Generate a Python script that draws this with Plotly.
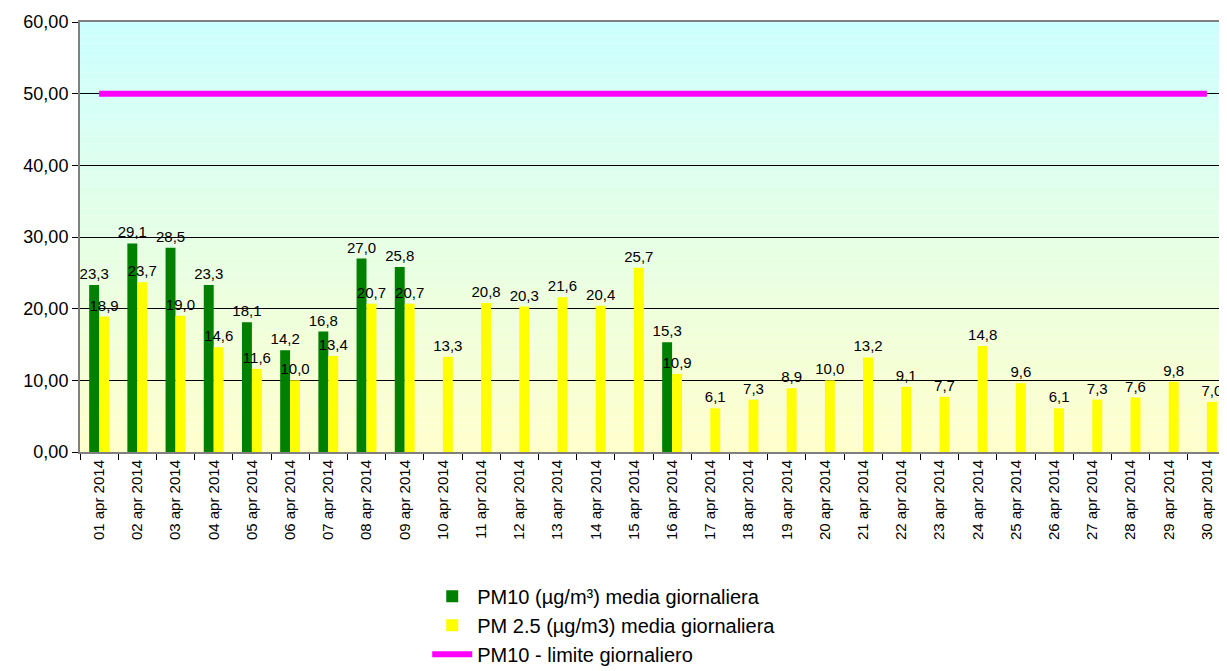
"""PM10 / PM2.5 medie giornaliere - aprile 2014."""
import plotly.graph_objects as go

DAYS = [f"{d:02d} apr 2014" for d in range(1, 31)]

PM10 = [23.3, 29.1, 28.5, 23.3, 18.1, 14.2, 16.8, 27.0, 25.8, None,
        None, None, None, None, None, 15.3, None, None, None, None,
        None, None, None, None, None, None, None, None, None, None]

PM25 = [18.9, 23.7, 19.0, 14.6, 11.6, 10.0, 13.4, 20.7, 20.7, 13.3,
        20.8, 20.3, 21.6, 20.4, 25.7, 10.9, 6.1, 7.3, 8.9, 10.0,
        13.2, 9.1, 7.7, 14.8, 9.6, 6.1, 7.3, 7.6, 9.8, 7.0]

LIMITE = [50.0] * len(DAYS)

FONT = "Arial, Liberation Sans, sans-serif"

fig = go.Figure()
fig.add_trace(go.Bar(
    x=DAYS, y=PM10, name="PM10 (µg/m³) media giornaliera",
    marker=dict(color="#008000", line=dict(width=0)),
    texttemplate="%{y:.1f}", textposition="outside", constraintext="none",
    textfont=dict(size=15, color="black"), cliponaxis=False,
))
fig.add_trace(go.Bar(
    x=DAYS, y=PM25, name="PM 2.5 (µg/m3) media giornaliera",
    marker=dict(color="#FFFF00", line=dict(width=0)),
    texttemplate="%{y:.1f}", textposition="outside", constraintext="none",
    textfont=dict(size=15, color="black"), cliponaxis=False,
))
fig.add_trace(go.Scatter(
    x=DAYS, y=LIMITE, name="PM10 - limite giornaliero", mode="lines",
    line=dict(color="#FF00FF", width=6),
))

# sfondo sfumato (ciano in alto -> giallo chiaro in basso)
n = 60
top = (204, 255, 255)
bot = (255, 255, 204)
for i in range(n):
    t = i / (n - 1)
    c = tuple(round(bot[k] + (top[k] - bot[k]) * t) for k in range(3))
    fig.add_shape(
        type="rect", xref="x domain", yref="y domain",
        x0=0, x1=1, y0=i / n, y1=(i + 1) / n,
        fillcolor=f"rgb{c}", line=dict(width=0), layer="below",
    )

# la pagina html ha 8px di margine: figura un po' piu piccola
fig.update_layout(
    width=1219, height=663,
    margin=dict(l=72, r=1, t=14, b=219, autoexpand=False),
    paper_bgcolor="white", plot_bgcolor="rgba(0,0,0,0)",
    separators=",.",
    barmode="group", bargap=0.48, bargroupgap=0,
    font=dict(family=FONT, color="black"),
    showlegend=True,
    legend=dict(
        orientation="v", x=0.303, xanchor="left", y=-0.29, yanchor="top",
        font=dict(size=20, family=FONT), tracegroupgap=0,
        bgcolor="rgba(0,0,0,0)", itemwidth=40,
    ),
)
fig.update_xaxes(
    type="category", tickangle=-90, tickfont=dict(size=15),
    tickson="boundaries", ticks="outside", ticklen=6, tickcolor="black",
    showgrid=False, showline=True, linecolor="#808080", linewidth=2,
    mirror=True, automargin=False,
)
fig.update_yaxes(
    range=[0, 60], dtick=10, tickformat=".2f", tickfont=dict(size=18),
    ticks="outside", ticklen=6, tickcolor="black",
    showgrid=True, gridcolor="black", gridwidth=1,
    showline=True, linecolor="#808080", linewidth=2, zeroline=False,
    automargin=False,
)

fig.write_html("out.html")
